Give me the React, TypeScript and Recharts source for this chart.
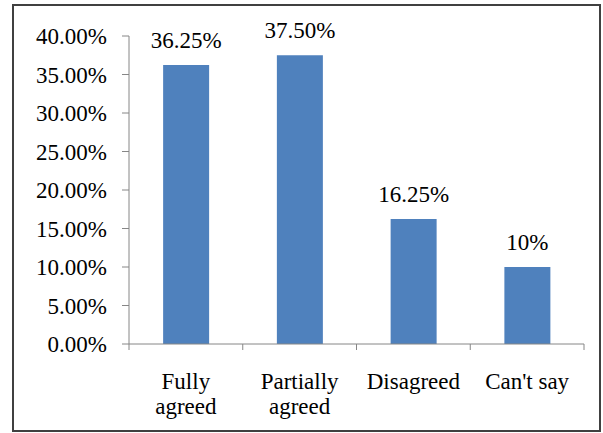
import React from "react";
import { BarChart, Bar, XAxis, YAxis, LabelList } from "recharts";

const categories = ["Fully agreed", "Partially agreed", "Disagreed", "Can't say"];
const tickLines = [["Fully", "agreed"], ["Partially", "agreed"], ["Disagreed"], ["Can't say"]];
const shares = [36.25, 37.5, 16.25, 10];
const shareLabels = ["36.25%", "37.50%", "16.25%", "10%"];
const yTicks = [0, 5, 10, 15, 20, 25, 30, 35, 40];

const data = categories.map((name, i) => ({
  name,
  share: shares[i],
  label: shareLabels[i],
}));

const FONT = "'Liberation Serif', 'DejaVu Serif', serif";
const AXIS = "#868686";
const BAR = "#4f81bd";
const textStyle = { fontFamily: FONT, fontSize: 23 };

// category ticks sit on the band edges, labels go under the band centre
const CategoryTick = (props: any) => {
  const { x, y, payload, index } = props;
  const half = payload?.offset ?? 0;
  const lines = tickLines[index] ?? [String(payload.value)];
  return (
    <g>
      <line x1={x - half} x2={x - half} y1={y} y2={y + 6} stroke={AXIS} />
      {index === categories.length - 1 && (
        <line x1={x + half} x2={x + half} y1={y} y2={y + 6} stroke={AXIS} />
      )}
      <text x={x} y={y + 45} textAnchor="middle" fill="#000" fontFamily={FONT} fontSize={23}>
        {lines.map((l, i) => (
          <tspan key={l} x={x} dy={i === 0 ? 0 : 25}>
            {l}
          </tspan>
        ))}
      </text>
    </g>
  );
};

export default function App() {
  return (
    <div
      style={{
        position: "absolute",
        left: 0,
        top: 0,
        width: 603,
        height: 433,
        background: "#fff",
        fontFamily: FONT,
      }}
    >
      <svg width={603} height={433} style={{ position: "absolute", left: 0, top: 0 }}>
        <rect x={13} y={5} width={587} height={426} fill="none" stroke="#404040" strokeWidth={2} />
      </svg>
      <div style={{ position: "absolute", left: 0, top: 0 }}>
        <BarChart
          width={603}
          height={433}
          data={data}
          margin={{ top: 36, right: 19, bottom: 29, left: 0 }}
          barCategoryGap="30%"
        >
          <XAxis
            dataKey="name"
            height={60}
            stroke={AXIS}
            tickLine={false}
            tickSize={0}
            tickMargin={0}
            interval={0}
            tick={<CategoryTick />}
          />
          <YAxis
            width={129}
            domain={[0, 40]}
            ticks={yTicks}
            interval={0}
            stroke={AXIS}
            tickSize={7}
            tickMargin={15}
            tickFormatter={(v: number) => `${v.toFixed(2)}%`}
            tick={{ fill: "#000", fontFamily: FONT, fontSize: 23 }}
          />
          <Bar dataKey="share" fill={BAR} isAnimationActive={false}>
            <LabelList
              dataKey="label"
              position="top"
              offset={17}
              fill="#000"
              fontFamily={FONT}
              fontSize={23}
            />
          </Bar>
        </BarChart>
      </div>
    </div>
  );
}
